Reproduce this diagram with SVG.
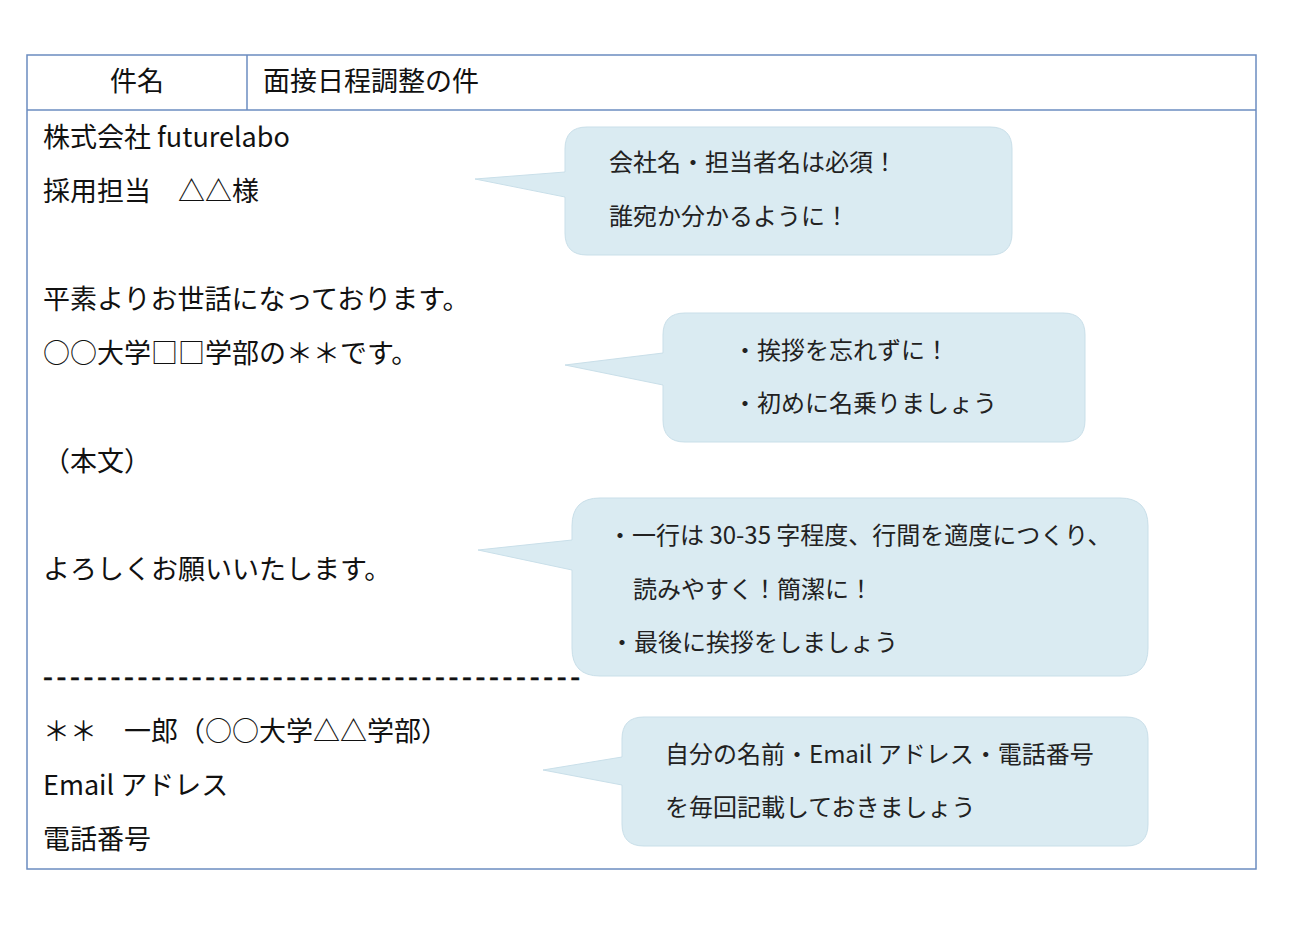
<svg xmlns="http://www.w3.org/2000/svg" width="1311" height="925" viewBox="0 0 1311 925">
<style>
.t{font-family:"Noto Sans CJK JP","Noto Sans",sans-serif;font-size:27px;fill:#111}
.d{font-family:"Liberation Sans",sans-serif;font-size:27px;fill:#111;stroke:#111;stroke-width:0.5;letter-spacing:3.3px}
.c{font-family:"Noto Sans CJK JP","Noto Sans",sans-serif;font-size:24px;fill:#222}
.bub{fill:#daebf2;stroke:#c9dfe9;stroke-width:1}
.grid{fill:none;stroke:#6b8cc0;stroke-width:1.5}
</style>
<rect width="1311" height="925" fill="#ffffff"/>
<g id="table">
<rect class="grid" x="27" y="55" width="1229" height="814"/>
<line class="grid" x1="27" y1="110" x2="1256" y2="110"/>
<line class="grid" x1="247" y1="55" x2="247" y2="110"/>
<text class="t" x="137" y="91" text-anchor="middle">件名</text>
<text class="t" x="263" y="91">面接日程調整の件</text>
</g>
<g id="body">
<text class="t" x="43" y="147">株式会社 futurelabo</text>
<text class="t" x="43" y="201">採用担当　△△様</text>
<text class="t" x="43" y="309">平素よりお世話になっております。</text>
<text class="t" x="43" y="363">○○大学□□学部の＊＊です。</text>
<text class="t" x="43" y="471">（本文）</text>
<text class="t" x="43" y="579">よろしくお願いいたします。</text>
<text class="d" x="0" y="0" transform="translate(43,686) scale(1.1,1)">----------------------------------------</text>
<text class="t" x="43" y="741">＊＊　一郎（○○大学△△学部）</text>
<text class="t" x="43" y="795">Email アドレス</text>
<text class="t" x="43" y="849">電話番号</text>
</g>
<g id="callout1">
<path class="bub" d="M587,127 H990 Q1012,127 1012,149 V233 Q1012,255 990,255 H587 Q565,255 565,233 V197 L475,179 L565,172 V149 Q565,127 587,127 Z"/>
<text class="c" x="609" y="171">会社名・担当者名は必須！</text>
<text class="c" x="609" y="225">誰宛か分かるように！</text>
</g>
<g id="callout2">
<path class="bub" d="M685,313 H1063 Q1085,313 1085,335 V420 Q1085,442 1063,442 H685 Q663,442 663,420 V385 L565,365 L663,353 V335 Q663,313 685,313 Z"/>
<text class="c" x="733" y="359">・挨拶を忘れずに！</text>
<text class="c" x="733" y="412">・初めに名乗りましょう</text>
</g>
<g id="callout3">
<path class="bub" d="M600,498 H1120 Q1148,498 1148,526 V648 Q1148,676 1120,676 H600 Q572,676 572,648 V570 L478,550 L572,540 V526 Q572,498 600,498 Z"/>
<text class="c" x="608" y="544">・一行は 30-35 字程度、行間を適度につくり、</text>
<text class="c" x="633" y="598">読みやすく！簡潔に！</text>
<text class="c" x="610" y="651">・最後に挨拶をしましょう</text>
</g>
<g id="callout4">
<path class="bub" d="M644,717 H1126 Q1148,717 1148,739 V824 Q1148,846 1126,846 H644 Q622,846 622,824 V785 L543,770 L622,757 V739 Q622,717 644,717 Z"/>
<text class="c" x="665" y="763">自分の名前・Email アドレス・電話番号</text>
<text class="c" x="665" y="816">を毎回記載しておきましょう</text>
</g>
<g id="connectors"></g>
</svg>
